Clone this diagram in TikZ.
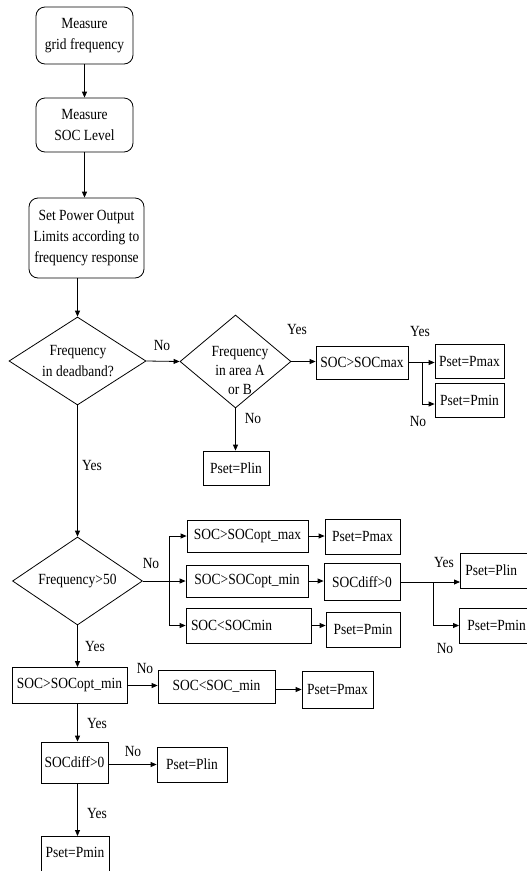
\documentclass[tikz,border=0pt]{standalone}
\usepackage{fontspec}
\setmainfont{Liberation Serif}[FakeStretch=0.87]
\usetikzlibrary{shapes.geometric,arrows.meta}
\begin{document}
\begin{tikzpicture}[x=1pt,y=-1pt,
  font=\fontsize{15.5}{21}\selectfont,
  line width=0.8pt,
  arr/.style={-{Triangle[length=6pt,width=5pt]}},
  rbox/.style={draw, rounded corners=9pt, inner sep=0pt, align=center},
  sbox/.style={draw, inner sep=0pt, align=center},
  dia/.style={draw, diamond, inner sep=0pt},
  lbl/.style={inner sep=0pt}]
\useasboundingbox (0,0) rectangle (527,871);
\clip (0,0) rectangle (527,871);

% top column
\node[rbox, minimum width=97pt, minimum height=57pt] (m1) at (84.5,35.5) {Measure\\grid frequency};
\node[rbox, minimum width=97pt, minimum height=54pt] (m2) at (84.5,125) {Measure\\SOC Level};
\node[rbox, minimum width=115pt, minimum height=80pt] (m3) at (86.5,238) {Set Power Output\\Limits according to\\frequency response};

% first decisions
\node[dia, minimum width=137pt, minimum height=88pt] (d1) at (77.5,361) {};
\node[align=center, inner sep=0pt] (d1t) at (78,361) {Frequency\\in deadband?};
\node[dia, minimum width=111pt, minimum height=93pt] (d2) at (235.5,361.5) {};
\node[align=center, inner sep=0pt, font=\fontsize{15.5}{19}\selectfont] (d2t) at (240,370) {Frequency\\in area A\\or B};
\node[sbox, minimum width=66pt, minimum height=34pt] (plin1) at (236,468) {Pset=Plin};
\node[sbox, minimum width=92pt, minimum height=33pt] (socmax) at (362,362.5) {SOC>SOCmax};
\node[sbox, minimum width=69pt, minimum height=34pt] (pmax1) at (469.5,361) {Pset=Pmax};
\node[sbox, minimum width=69pt, minimum height=34pt] (pmin1) at (469.5,400) {Pset=Pmin};

% frequency > 50
\node[dia, minimum width=130pt, minimum height=88pt] (d3) at (77.5,581) {};
\node[inner sep=0pt] (d3t) at (77.5,581) {Frequency>50};
\node[sbox, minimum width=121pt, minimum height=32pt] (r1) at (247.5,536) {SOC>SOCopt\_max};
\node[sbox, minimum width=122pt, minimum height=32pt] (r2) at (247,581) {SOC>SOCopt\_min};
\node[sbox, minimum height=35pt, text width=115pt, inner xsep=5pt, align=left] (r3) at (248.5,625.5) {SOC<SOCmin};
\node[sbox, minimum width=75pt, minimum height=35pt] (p1) at (362.5,536.5) {Pset=Pmax};
\node[sbox, minimum width=76pt, minimum height=37pt] (sd) at (362,582) {SOCdiff>0};
\node[sbox, minimum width=74pt, minimum height=35pt] (p3) at (363,629.5) {Pset=Pmin};
\node[sbox, anchor=west, minimum height=35pt, text width=90pt, inner xsep=5pt, align=left] (pl2) at (460,570.5) {Pset=Plin};
\node[sbox, anchor=west, minimum height=35pt, text width=90pt, inner xsep=8pt, align=left] (pm2) at (459,625.5) {Pset=Pmin};

% bottom part
\node[sbox, minimum width=115pt, minimum height=36pt] (b) at (69.5,685.5) {SOC>SOCopt\_min};
\node[sbox, minimum width=117pt, minimum height=33pt] (sm) at (216.5,686.5) {SOC<SOC\_min};
\node[sbox, minimum width=71pt, minimum height=37pt] (pmx) at (337.5,689.5) {Pset=Pmax};
\node[sbox, minimum width=67pt, minimum height=41pt] (sdb) at (74.5,762.5) {SOCdiff>0};
\node[sbox, minimum width=70pt, minimum height=35pt] (plb) at (192,764.5) {Pset=Plin};
\node[sbox, anchor=north, minimum width=68pt, inner ysep=11pt, text depth=30pt] (pmb) at (75,836) {Pset=Pmin};

% connectors
\draw[arr] (m1) -- (m2);
\draw[arr] (m2.south) -- (m2.south |- m3.north);
\draw[arr] (m3.south -| d1.north) -- (d1.north);
\draw[arr] (d1.east) -- (d2.west);
\draw[arr] (d2.south) -- (d2.south |- plin1.north);
\draw[arr] (d2.east) -- (d2.east -| socmax.west);
\coordinate (j1) at (422,362.5);
\draw (socmax.east) -- (j1);
\draw[arr] (j1) -- (j1 -| pmax1.west);
\draw[arr] (j1) |- ([yshift=-4pt]pmin1.west);
\draw[arr] (d1.south) -- (d3.north);
\coordinate (t) at (169,581);
\draw[arr] (d3.east) -- (r2.west);
\draw[arr] (t) |- (r1.west);
\draw[arr] (t) |- (r3.west);
\draw[arr] (r1.east) -- (r1.east -| p1.west);
\draw[arr] (r2.east) -- (r2.east -| sd.west);
\draw[arr] (r3.east) -- (r3.east -| p3.west);
\coordinate (j2) at (433,582);
\draw (sd.east) -- (j2);
\draw[arr] (j2) -- (j2 -| pl2.west);
\draw[arr] (j2) |- (pm2.west);
\draw[arr] (d3.south) -- (d3.south |- b.north);
\draw[arr] (b.east) -- (b.east -| sm.west);
\draw[arr] (sm.east |- pmx.west) -- (pmx.west);
\draw[arr] (b.south -| d3.south) -- (d3.south |- sdb.north);
\draw[arr] (sdb.east |- plb.west) -- (plb.west);
\draw[arr] (sdb.south -| d3.south) -- (d3.south |- pmb.north);

% labels
\node[lbl] (l1) at (162,345) {No};
\node[lbl] (l2) at (297,329) {Yes};
\node[lbl] (l3) at (253,418) {No};
\node[lbl] (l4) at (92,465) {Yes};
\node[lbl] (l5) at (420,331) {Yes};
\node[lbl] (l6) at (418,421) {No};
\node[lbl] (l7) at (151,563) {No};
\node[lbl] (l8) at (444,562) {Yes};
\node[lbl] (l9) at (445,648) {No};
\node[lbl] (l10) at (95,646) {Yes};
\node[lbl] (l11) at (145,668) {No};
\node[lbl] (l12) at (97,723) {Yes};
\node[lbl] (l13) at (133,751) {No};
\node[lbl] (l14) at (97,813) {Yes};
\end{tikzpicture}
\end{document}
